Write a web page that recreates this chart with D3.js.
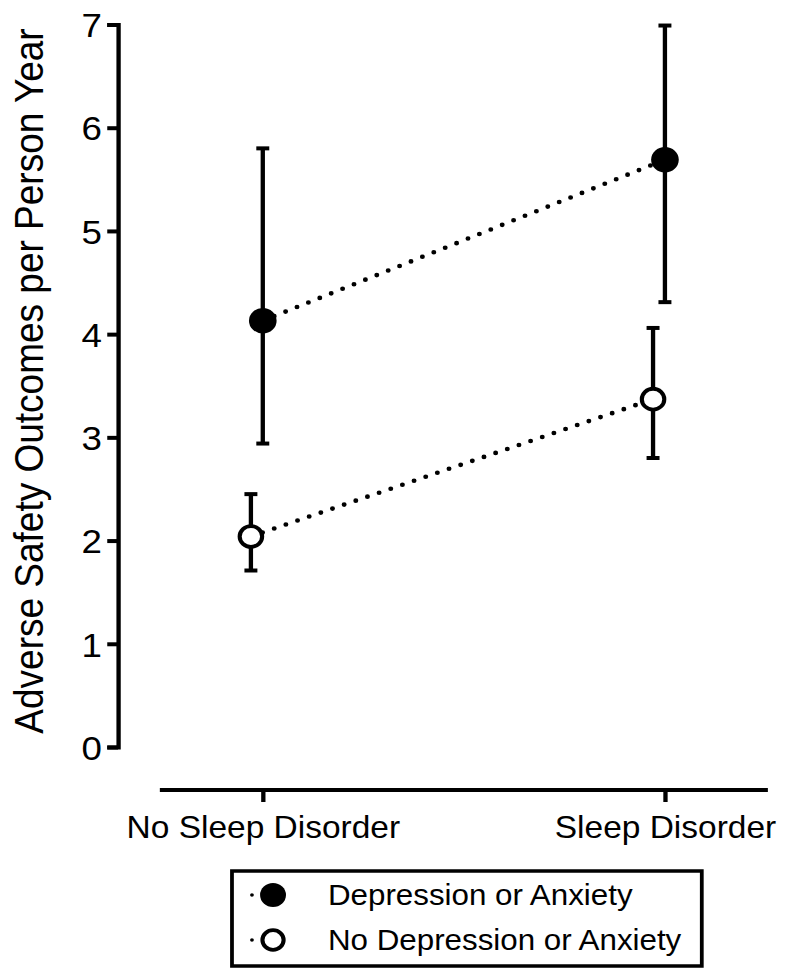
<!DOCTYPE html>
<html>
<head>
<meta charset="utf-8">
<script src="https://cdn.jsdelivr.net/npm/d3@7"></script>
<style>
  body { margin: 0; background: #fff; }
  text { font-family: "Liberation Sans", Arial, sans-serif; fill: #000; }
</style>
</head>
<body>
<div class="chart"></div>
<script type="text/javascript">

// data
var categories = ["No Sleep Disorder", "Sleep Disorder"];
var groups = ["Depression or Anxiety", "No Depression or Anxiety"];
var depMean = [4.13, 5.69];
var depLow = [2.94, 4.31];
var depHigh = [5.80, 6.99];
var noDepMean = [2.04, 3.37];
var noDepLow = [1.71, 2.80];
var noDepHigh = [2.45, 4.06];
var yTicks = [0, 1, 2, 3, 4, 5, 6, 7];

var series = [
  { name: groups[0], mean: depMean, low: depLow, high: depHigh, fill: "#000", shift: 0 },
  { name: groups[1], mean: noDepMean, low: noDepLow, high: noDepHigh, fill: "#fff", shift: -11 }
];

var svg = d3.select(".chart").append("svg")
  .attr("width", 785).attr("height", 969);

// the original is a bit wider than tall, so stretch everything horizontally
var g = svg.append("g").attr("transform", "scale(1.08,1)");

var y = d3.scaleLinear().domain([0, 7]).range([747, 24.5]);
var x = d3.scalePoint().domain(categories).range([148, 711]).padding(0.256);

// y axis
var yAxis = g.append("g").attr("transform", "translate(109.3,0)")
  .call(d3.axisLeft(y).tickValues(yTicks).tickFormat(d3.format("d"))
    .tickSizeOuter(0).tickSize(10).tickPadding(5));
yAxis.selectAll("path, line").attr("stroke", "#000").attr("stroke-width", 4);
yAxis.selectAll("text").style("font-size", "34px").attr("dy", "0.36em");

// x axis
var xAxis = g.append("g").attr("transform", "translate(0,790)")
  .call(d3.axisBottom(x).tickSizeOuter(0).tickSize(12).tickPadding(14));
xAxis.selectAll("path, line").attr("stroke", "#000").attr("stroke-width", 4);
xAxis.selectAll("text").style("font-size", "31px");
xAxis.select(".domain").attr("d", "M148,0H711");

// y title
g.append("text")
  .attr("transform", "translate(39.5,381) rotate(-90)")
  .attr("text-anchor", "middle")
  .style("font-size", "37px")
  .text("Adverse Safety Outcomes per Person Year");

// dotted connecting lines
var line = d3.line()
  .x(function(d) { return d.x; })
  .y(function(d) { return d.y; });

series.forEach(function(s) {
  var pts = categories.map(function(c, i) {
    return { x: x(c) + s.shift, y: y(s.mean[i]) };
  });
  g.append("path")
    .attr("d", line(pts))
    .attr("fill", "none")
    .attr("stroke", "#000")
    .attr("stroke-width", 4.6)
    .attr("stroke-linecap", "round")
    .attr("stroke-dasharray", "0 11.5");
});

// error bars and markers
series.forEach(function(s) {
  var grp = g.append("g");
  categories.forEach(function(c, i) {
    var cx = x(c) + s.shift;
    grp.append("line")
      .attr("x1", cx).attr("x2", cx)
      .attr("y1", y(s.low[i])).attr("y2", y(s.high[i]))
      .attr("stroke", "#000").attr("stroke-width", 4);
    [s.low[i], s.high[i]].forEach(function(v) {
      grp.append("line")
        .attr("x1", cx - 6).attr("x2", cx + 6)
        .attr("y1", y(v)).attr("y2", y(v))
        .attr("stroke", "#000").attr("stroke-width", 4);
    });
  });
  grp.selectAll("circle").data(s.mean).enter().append("circle")
    .attr("cx", function(d, i) { return x(categories[i]) + s.shift; })
    .attr("cy", function(d) { return y(d); })
    .attr("r", s.fill == "#000" ? 12.8 : 10.4)
    .attr("fill", s.fill)
    .attr("stroke", "#000")
    .attr("stroke-width", s.fill == "#000" ? 0 : 3.8);
});

// legend
var leg = g.append("g");
leg.append("rect")
  .attr("x", 214.8).attr("y", 871)
  .attr("width", 435).attr("height", 95)
  .attr("fill", "#fff").attr("stroke", "#000").attr("stroke-width", 3.5);

var legY = d3.scalePoint().domain(groups).range([895, 940]);
series.forEach(function(s) {
  var ly = legY(s.name);
  leg.append("path")
    .attr("d", "M233.3," + ly + "H271.5")
    .attr("stroke", "#000").attr("stroke-width", 3.5)
    .attr("stroke-linecap", "round")
    .attr("stroke-dasharray", "0 19.1");
  leg.append("circle")
    .attr("cx", 252.8).attr("cy", ly)
    .attr("r", s.fill == "#000" ? 12 : 9.8)
    .attr("fill", s.fill)
    .attr("stroke", "#000")
    .attr("stroke-width", s.fill == "#000" ? 0 : 3.8);
  leg.append("text")
    .attr("x", 303.7).attr("y", ly + 10.5)
    .style("font-size", "29px")
    .text(s.name);
});

</script>
</body>
</html>
